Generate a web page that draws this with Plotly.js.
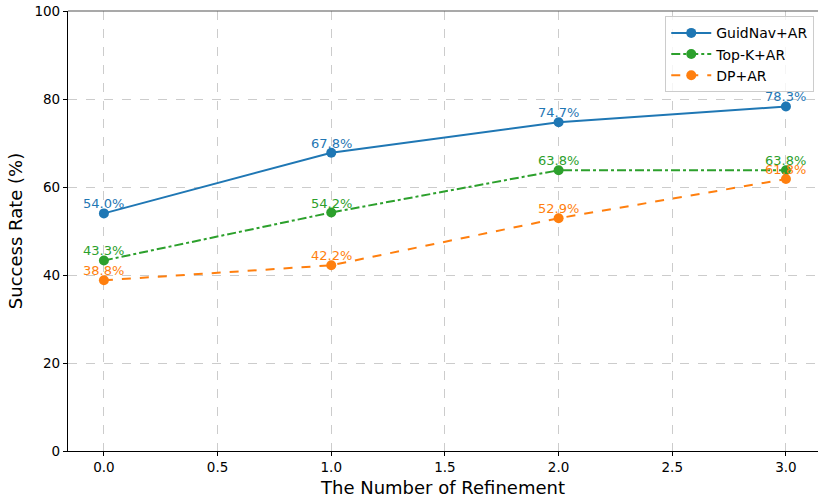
<!DOCTYPE html>
<html><head><meta charset="utf-8">
<script src="https://cdn.plot.ly/plotly-3.0.1.min.js"></script>
<style>body{margin:0;padding:0;background:#fff}#chart{width:818px;height:498px}</style>
</head><body><div id="chart"></div>
<script>
const refinements = [0, 1, 2, 3];
const guidNav = [54.0, 67.8, 74.7, 78.3];
const topK = [43.3, 54.2, 63.8, 63.8];
const dp = [38.8, 42.2, 52.9, 61.8];
const seriesNames = ['GuidNav+AR', 'Top-K+AR', 'DP+AR'];
const colors = ['#1f77b4', '#2ca02c', '#ff7f0e'];
const dashes = ['solid', 'dashdot', 'dash'];
const series = [guidNav, topK, dp];

const data = series.map((y, i) => ({
  x: refinements, y: y, name: seriesNames[i], type: 'scatter', mode: 'lines+markers',
  line: {color: colors[i], width: 2, dash: dashes[i]},
  marker: {color: colors[i], size: 10}
}));
const annotations = [];
series.forEach((y, i) => {
  y.forEach((v, j) => {
    annotations.push({x: refinements[j], y: v, xref: 'x', yref: 'y',
      text: v.toFixed(1) + '%', showarrow: false, yanchor: 'bottom', xanchor: 'center',
      yshift: 0, font: {color: colors[i], size: 13, family: 'DejaVu Sans'}});
  });
});
const layout = {
  width: 818, height: 498,
  margin: {l: 68, r: 0, t: 11, b: 47},
  paper_bgcolor: '#fff', plot_bgcolor: '#fff',
  font: {family: 'DejaVu Sans', color: '#000'},
  showlegend: true,
  legend: {x: 0.995, y: 0.988, xanchor: 'right', yanchor: 'top',
    bordercolor: '#cccccc', borderwidth: 1, bgcolor: 'rgba(255,255,255,0.8)',
    font: {size: 14}, tracegroupgap: 0, itemwidth: 40},
  annotations: annotations,
  xaxis: {
    range: [-0.158, 3.141], dtick: 0.5, tick0: 0, tickformat: '.1f',
    showgrid: true, gridcolor: '#cccccc', griddash: 'dash', gridwidth: 1,
    showline: true, linecolor: '#000', linewidth: 1.2,
    ticks: 'outside', ticklen: 4, tickcolor: '#000',
    tickfont: {size: 13.5}, zeroline: false,
    title: {text: 'The Number of Refinement', font: {size: 18}, standoff: 9}
  },
  yaxis: {
    range: [0, 100], dtick: 20,
    showgrid: true, gridcolor: '#cccccc', griddash: 'dash', gridwidth: 1,
    showline: true, linecolor: '#000', linewidth: 1.2,
    ticks: 'outside', ticklen: 4, tickcolor: '#000',
    tickfont: {size: 13.5}, zeroline: false,
    title: {text: 'Success Rate (%)', font: {size: 18}, standoff: 7}
  },
  shapes: [{type: 'line', xref: 'paper', yref: 'paper', x0: 0, x1: 1, y0: 1, y1: 1,
    line: {color: '#555', width: 1.2}}]
};
Plotly.newPlot('chart', data, layout, {displayModeBar: false});
</script></body></html>
